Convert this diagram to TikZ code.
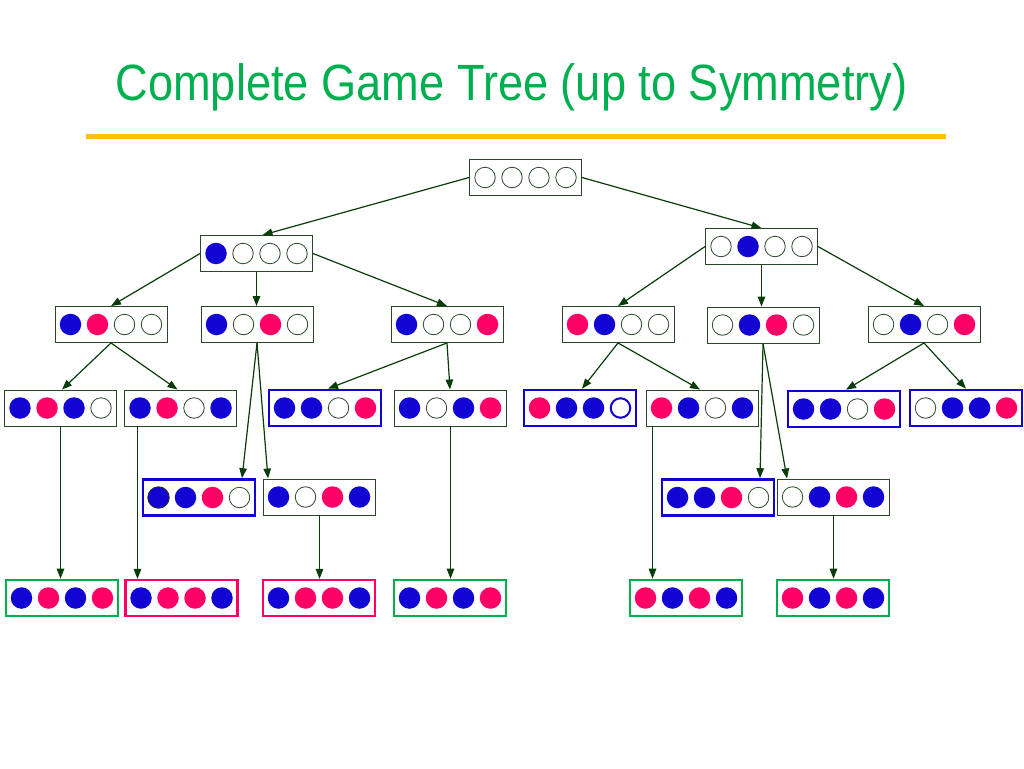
\documentclass[tikz,border=0pt]{standalone}
\usepackage{fontspec}
\setmainfont{Liberation Sans}
\usetikzlibrary{arrows.meta}
\definecolor{tblue}{RGB}{18,4,210}
\definecolor{tpink}{RGB}{255,0,102}
\definecolor{tgreen}{RGB}{0,176,80}
\definecolor{titlecol}{RGB}{0,176,80}
\definecolor{rulecol}{RGB}{255,192,0}
\definecolor{boxcol}{RGB}{40,72,40}
\definecolor{edgecol}{RGB}{10,60,10}
\tikzset{
  board/.style={draw=boxcol, line width=0.9pt, fill=white, minimum width=112pt, minimum height=36pt, inner sep=0pt},
  plainb/.style={},
  blueb/.style={draw=tblue, line width=2.6pt},
  greenb/.style={draw=tgreen, line width=2.6pt},
  pinkb/.style={draw=tpink, line width=2.2pt},
  disc/.style={circle, minimum size=21.5pt, inner sep=0pt},
  cb/.style={disc, fill=tblue},
  cp/.style={disc, fill=tpink},
  ce/.style={disc, draw=boxcol, line width=0.8pt, minimum size=20.5pt},
  cr/.style={disc, draw=tblue, line width=2pt, minimum size=19.5pt},
  cd/.style={disc, fill=tblue, draw=black!85, line width=0.8pt},
  edge/.style={draw=edgecol, line width=1.2pt, -{Triangle[length=10pt,width=7.5pt]}}
}
\newcommand{\board}[4]{%
  \node[board,#3] (#1) at (#2) {};
  \foreach \s [count=\i] in {#4}{\node[\s] (#1-\i) at ([xshift={(\i-2.5)*27pt}]#1.center) {};}%
}
\begin{document}
\begin{tikzpicture}[x=1pt,y=-1pt]
\useasboundingbox (0,0) rectangle (1024,768);
% title
\node[anchor=base, text=titlecol, inner sep=0pt, font=\fontsize{51}{60}\selectfont] (title) at (511.5,100)
  {\scalebox{0.886}[1]{Complete Game Tree (up to Symmetry)}};
\draw[rulecol, line width=5pt] (86,136) -- (946,136);
% boards
\board{root}{525.5,177.5}{plainb}{ce,ce,ce,ce}
\board{A}{256.5,253.5}{plainb}{cb,ce,ce,ce}
\board{B}{761.5,246.5}{plainb}{ce,cb,ce,ce}
\board{A1}{111,324.5}{plainb}{cb,cp,ce,ce}
\board{A2}{257,324.5}{plainb}{cb,ce,cp,ce}
\board{A3}{447,324.5}{plainb}{cb,ce,ce,cp}
\board{B1}{618,324.5}{plainb}{cp,cb,ce,ce}
\board{B2}{763,325}{plainb}{ce,cb,cp,ce}
\board{B3}{924,324.5}{plainb}{ce,cb,ce,cp}
\board{L1}{60.5,408}{plainb}{cb,cp,cb,ce}
\board{L2}{180.5,408}{plainb}{cb,cp,ce,cb}
\board{L3}{325,408}{blueb}{cb,cb,ce,cp}
\board{L4}{450,408}{plainb}{cb,ce,cb,cp}
\board{L5}{580,408}{blueb}{cp,cb,cb,cr}
\board{L6}{702,408}{plainb}{cp,cb,ce,cb}
\board{L7}{844,409}{blueb}{cb,cb,ce,cp}
\board{L8}{966,408}{blueb}{ce,cb,cb,cp}
\board{M1}{199,497.5}{blueb}{cd,cb,cp,ce}
\board{M2}{319,497}{plainb}{cb,ce,cp,cb}
\board{M3}{718,497.5}{blueb}{cb,cb,cp,ce}
\board{M4}{833,497}{plainb}{ce,cb,cp,cb}
\board{N1}{62,598}{greenb}{cb,cp,cb,cp}
\board{N2}{181.5,598}{pinkb}{cb,cp,cp,cb}
\board{N3}{319,598}{pinkb}{cb,cp,cp,cb}
\board{N4}{450,598}{greenb}{cb,cp,cb,cp}
\board{N5}{686,598}{greenb}{cp,cb,cp,cb}
\board{N6}{833,598}{greenb}{cp,cb,cp,cb}
% edges
\draw[edge] (root.west) -- ([xshift=6pt]A.north);
\draw[edge] (root.east) -- (B.north);
\draw[edge] (A.west) -- (A1.north);
\draw[edge] (A.south) -- (A.south |- A2.north);
\draw[edge] (A.east) -- (A3.north);
\draw[edge] (B.west) -- (B1.north);
\draw[edge] (B.south) -- (B.south |- B2.north);
\draw[edge] (B.east) -- (B3.north);
\draw[edge] (A1.south) -- ([xshift=1.5pt]L1.north);
\draw[edge] (A1.south) -- ([xshift=-3pt]L2.north);
\draw[edge] (A2.south) -- ([xshift=43pt]M1.north);
\draw[edge] (A2.south) -- ([xshift=-51pt]M2.north);
\draw[edge] (A3.south) -- ([xshift=3pt]L3.north);
\draw[edge] (A3.south) -- (L4.north);
\draw[edge] (B1.south) -- ([xshift=2pt]L5.north);
\draw[edge] (B1.south) -- ([xshift=-2pt]L6.north);
\draw[edge] (B2.south) -- ([xshift=42pt]M3.north);
\draw[edge] (B2.south) -- ([xshift=-46pt]M4.north);
\draw[edge] (B3.south) -- ([xshift=2pt]L7.north);
\draw[edge] (B3.south) -- (L8.north);
\draw[edge] (L1.south) -- (L1.south |- N1.north);
\draw[edge] ([xshift=-43pt]L2.south) -- ([xshift=-43pt]L2.south |- N2.north);
\draw[edge] ([xshift=0.5pt]M2.south) -- ([xshift=0.5pt]M2.south |- N3.north);
\draw[edge] ([xshift=0.5pt]L4.south) -- ([xshift=0.5pt]L4.south |- N4.north);
\draw[edge] ([xshift=-49.5pt]L6.south) -- ([xshift=-49.5pt]L6.south |- N5.north);
\draw[edge] ([xshift=0.5pt]M4.south) -- ([xshift=0.5pt]M4.south |- N6.north);
\end{tikzpicture}
\end{document}
